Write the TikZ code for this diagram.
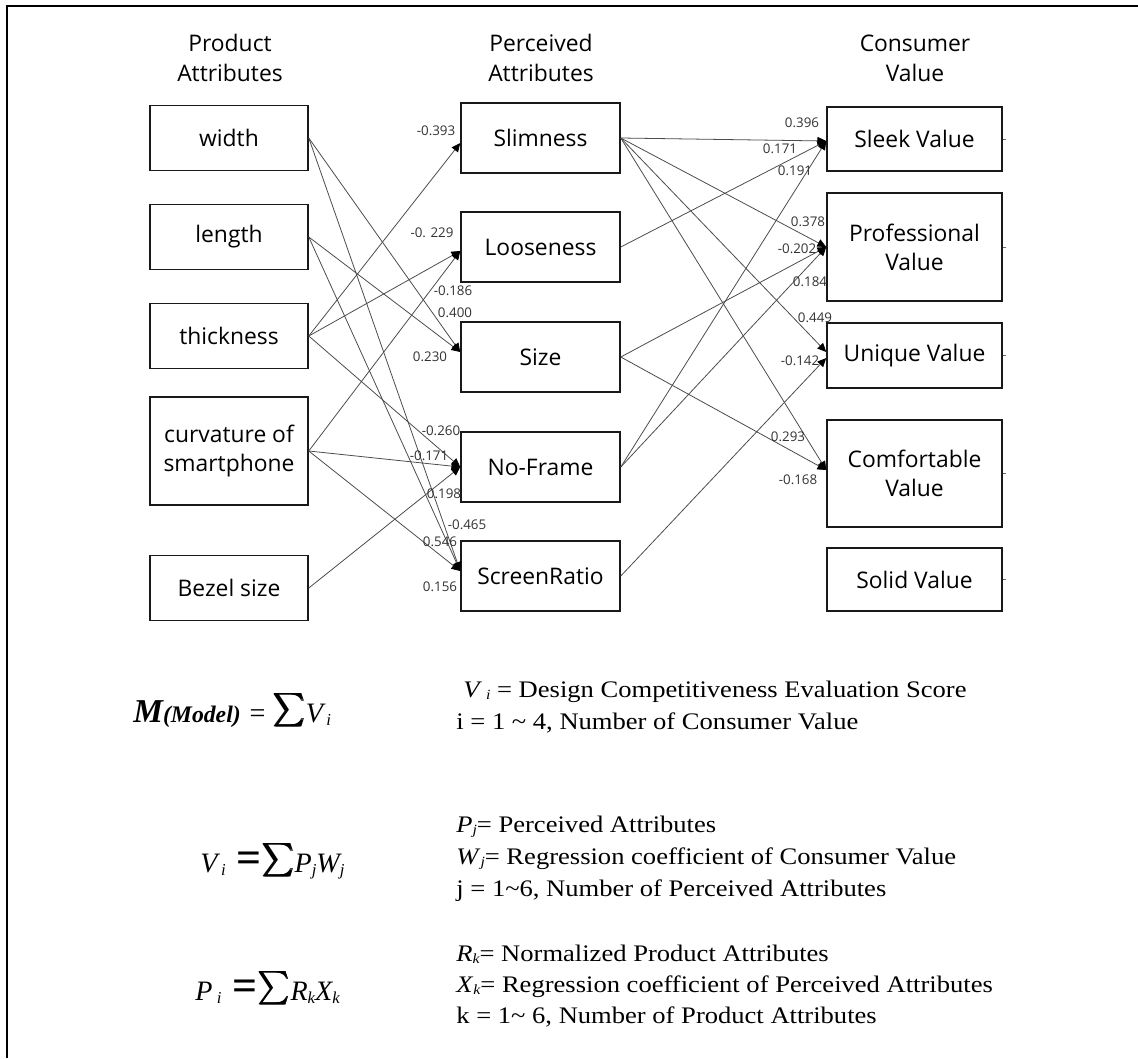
\documentclass[tikz,border=0pt]{standalone}
\usepackage{amsmath,bm}
\usepackage{fontspec}
\setmainfont{Liberation Serif}
\newfontfamily\boxfont{Open Sans}
\newfontfamily\serfont[FakeStretch=1.12]{Liberation Serif}
\usetikzlibrary{arrows.meta,calc}
\newcommand{\bigsum}{\raisebox{-3pt}{\resizebox{18pt}{19.5pt}{\raisebox{\depth}{$\pmb{\sum}$}}}}
\newcommand{\subsc}[1]{\raisebox{-1.5pt}{\fontsize{8}{8}\selectfont\itshape #1}}
\newcommand{\fsub}[1]{\raisebox{-2pt}{\fontsize{9.5}{9.5}\selectfont\itshape #1}}
\newcommand{\fl}[1]{{\fontsize{16}{18}\selectfont\itshape #1}}
\newcommand{\bigeq}{{\fontsize{25}{25}\selectfont\bfseries\upshape =}}
\begin{document}
\begin{tikzpicture}[x=0.02cm,y=-0.02cm,
  box/.style={draw=black!90,line width=0.9pt,font=\boxfont\fontsize{13}{16.5}\selectfont,align=center,inner sep=0pt},
  lbox/.style={box,minimum width=3.16cm,minimum height=1.3cm},
  mbox/.style={box,minimum width=3.18cm,minimum height=1.4cm},
  rbox/.style={box,minimum width=3.5cm},
  edge/.style={draw=black!70,line width=0.45pt,-{Triangle[length=5pt,width=4.5pt,color=black]}},
  stub/.style={draw=black!60,line width=0.45pt},
  wt/.style={font=\boxfont\fontsize{7.6}{8}\selectfont,text=black!80,inner sep=0pt},
  hdr/.style={font=\boxfont\fontsize{13}{17}\selectfont,align=center,inner sep=0pt},
  desc/.style={anchor=base west,font=\serfont\fontsize{13.5}{16}\selectfont,inner sep=0pt},
  frm/.style={anchor=base west,inner sep=0pt}]

\useasboundingbox (0,0) rectangle (1138,1058);
\fill[white] (0,0) rectangle (1138,1058);
\draw[line width=1pt] (7,1058) -- (7,6) -- (1138,6);

% headers
\node[hdr] (h1) at (230,58) {Product\\Attributes};
\node[hdr] (h2) at (541,58) {Perceived\\Attributes};
\node[hdr] (h3) at (915,58) {Consumer\\Value};

% left column
\node[lbox] (width) at (229,138) {width};
\node[lbox] (length) at (229,237) {length};
\node[lbox] (thick) at (229,336) {thickness};
\node[lbox,minimum height=2.16cm] (curv) at (229,451) {curvature of\\smartphone};
\node[lbox] (bezel) at (229,588) {Bezel size};

% middle column
\node[mbox] (slim) at (540.5,138) {Slimness};
\node[mbox] (loose) at (540.5,247) {Looseness};
\node[mbox] (size) at (540.5,357) {Size};
\node[mbox] (nof) at (540.5,467) {No-Frame};
\node[mbox] (scr) at (540.5,576) {ScreenRatio};

% right column
\node[rbox,minimum height=1.28cm] (sleek) at (914.5,139) {Sleek Value};
\node[rbox,minimum height=2.16cm] (prof) at (914.5,247) {Professional\\Value};
\node[rbox,minimum height=1.3cm] (uniq) at (914.5,355.5) {Unique Value};
\node[rbox,minimum height=2.14cm] (comf) at (914.5,473.5) {Comfortable\\Value};
\node[rbox,minimum height=1.26cm] (solid) at (914.5,579.5) {Solid Value};

\foreach \n in {sleek,prof,uniq,comf,solid}
  \draw[stub] (\n.east) -- ++(3,0);

% product -> perceived
\draw[edge] (thick.east) -- ($(slim.west)+(0,5)$);
\draw[edge] (thick.east) -- ($(loose.west)+(0,4)$);
\draw[edge] (curv.east) -- ($(loose.west)+(0,4)$);
\draw[edge] (width.east) -- ($(size.west)+(0,-5)$);
\draw[edge] (length.east) -- ($(size.west)+(0,-5)$);
\draw[edge] (thick.east) -- (nof.west);
\draw[edge] (curv.east) -- (nof.west);
\draw[edge] (bezel.east) -- (nof.west);
\draw[edge] (width.east) -- ($(scr.west)+(0,-5)$);
\draw[edge] (length.east) -- ($(scr.west)+(0,-5)$);
\draw[edge] (curv.east) -- ($(scr.west)+(0,-5)$);

% perceived -> consumer value
\draw[edge] (slim.east) -- ($(sleek.west)+(0,2)$);
\draw[edge] (loose.east) -- ($(sleek.west)+(0,2)$);
\draw[edge] (nof.east) -- ($(sleek.west)+(0,2)$);
\draw[edge] (slim.east) -- (prof.west);
\draw[edge] (size.east) -- (prof.west);
\draw[edge] (nof.east) -- (prof.west);
\draw[edge] (slim.east) -- ($(uniq.west)+(0,-3.5)$);
\draw[edge] (scr.east) -- ($(uniq.west)+(0,2.5)$);
\draw[edge] (slim.east) -- ($(comf.west)+(0,-3.5)$);
\draw[edge] (size.east) -- ($(comf.west)+(0,-3.5)$);

% weights left
\node[wt] (w1) at (436,131) {-0.393};
\node[wt] (w2) at (432,233) {-0. 229};
\node[wt] (w3) at (453,291) {-0.186};
\node[wt] (w4) at (455,313) {0.400};
\node[wt] (w5) at (430,357) {0.230};
\node[wt] (w6) at (441,431) {-0.260};
\node[wt] (w7) at (429,456) {-0.171};
\node[wt] (w8) at (444,494) {0.198};
\node[wt] (w9) at (467,525) {-0.465};
\node[wt] (w10) at (440,542) {0.546};
\node[wt] (w11) at (440,587) {0.156};

% weights right
\node[wt] (v1) at (802,123) {0.396};
\node[wt] (v2) at (780,149) {0.171};
\node[wt] (v3) at (795,171) {0.191};
\node[wt] (v4) at (808,222) {0.378};
\node[wt] (v5) at (797,249) {-0.202};
\node[wt] (v6) at (810,282) {0.184};
\node[wt] (v7) at (815,318) {0.449};
\node[wt] (v8) at (800,361) {-0.142};
\node[wt] (v9) at (788,437) {0.293};
\node[wt] (v10) at (798,480) {-0.168};

% formulas
\node[frm] (f1) at (133,722) {{\fontsize{19}{20}\selectfont\bfseries\itshape M}{\fontsize{13.5}{15}\selectfont\bfseries\itshape(Model)}\hspace{5pt}{\fontsize{16}{18}\selectfont =}\hspace{5pt}\bigsum\fl{V}\hspace{2pt}\fsub{i}};
\node[frm] (f2) at (200,872) {\fl{V}\hspace{2pt}\fsub{i}\hspace{6pt}\bigeq\hspace{1pt}\bigsum\fl{P}\fsub{j}\fl{W}\fsub{j}};
\node[frm] (f3) at (195,1000) {\fl{P}\hspace{2.5pt}\fsub{i}\hspace{6pt}\bigeq\hspace{1pt}\bigsum\fl{R}\fsub{k}\fl{X}\fsub{k}};

% descriptions
\node[desc] (d1) at (463,697) {\textit{V}\,\subsc{i} = Design Competitiveness Evaluation Score};
\node[desc] (d2) at (456,729) {i = 1 \textasciitilde{} 4, Number of Consumer Value};
\node[desc] (d3) at (456,832) {\textit{P}\subsc{j}= Perceived Attributes};
\node[desc] (d4) at (456,864) {\textit{W}\subsc{j}= Regression coefficient of Consumer Value};
\node[desc] (d5) at (456,896) {j = 1\textasciitilde6, Number of Perceived Attributes};
\node[desc] (d6) at (456,961) {\textit{R}\subsc{k}= Normalized Product Attributes};
\node[desc] (d7) at (456,992) {\textit{X}\subsc{k}= Regression coefficient of Perceived Attributes};
\node[desc] (d8) at (456,1023) {k = 1\textasciitilde{} 6, Number of Product Attributes};
\end{tikzpicture}
\end{document}
